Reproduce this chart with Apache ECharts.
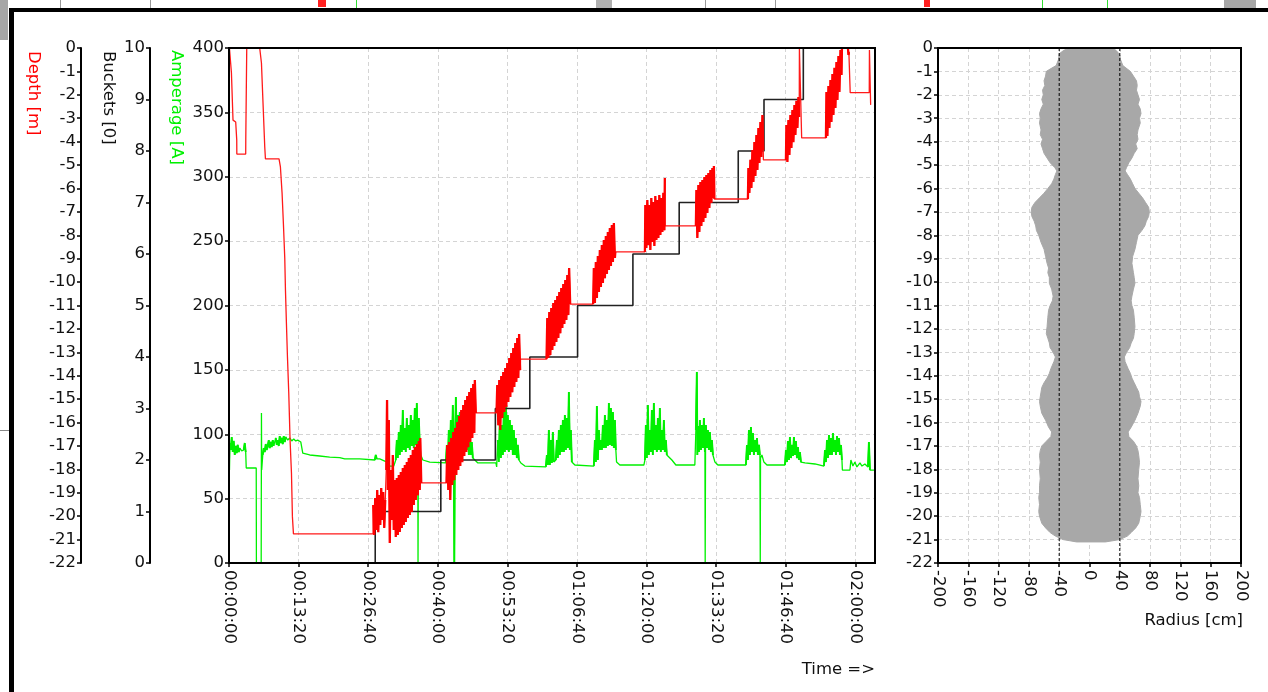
<!DOCTYPE html>
<html><head><meta charset="utf-8">
<script src="https://cdn.jsdelivr.net/npm/echarts@6/dist/echarts.min.js"></script>
<style>html,body{margin:0;padding:0;background:#fff}#c{width:1268px;height:692px}</style>
</head><body><div id="c"></div>
<script>
// ---------- DATA ----------
const timeMax = 7426;          // seconds
const timeStep = 800;          // tick step (s)
const ampRange = [0, 400];     // Amperage [A]
const bucketRange = [0, 10];   // Buckets
const depthRange = [-22, 0];   // Depth [m]
const radiusRange = [-200, 200];
const boreRadius = [-40, 40];  // dashed reference lines (cm)

// Depth [m] vs time [s] (red)
const depthData = [
[5,0],[28,-1.07],[46,-3.08],[77,-3.16],[89,-3.93],[90,-4.53],[192,-4.53],[193,-3.89],[204,0],[353,0],
[373,-0.64],[391,-2.35],[411,-4.23],[419,-4.74],[575,-4.74],[591,-5.08],[610,-6.19],[626,-7.56],[641,-8.97],
[649,-10.34],[660,-11.75],[672,-13.2],[687,-14.74],[702,-16.75],[718,-18.16],[729,-20.03],[741,-20.76],[1656,-20.76],
[1658,-19.52],[1670,-20.8],[1681,-19.22],[1693,-20.59],[1704,-18.88],[1716,-20.68],[1727,-19.1],[1739,-20.38],
[1750,-18.8],[1762,-20.16],[1773,-18.97],[1785,-20.5],[1796,-19.31],[1808,-18.03],[1817,-15.04],[1825,-18.88],
[1837,-15.89],[1848,-21.15],[1860,-18.03],[1871,-20.16],[1883,-17.39],[1894,-20.59],[1906,-18.46],[1917,-20.89],
[1929,-18.37],[1940,-20.8],[1952,-18.24],[1963,-20.68],[1975,-18.11],[1986,-20.5],[1998,-17.94],[2009,-20.38],
[2021,-17.81],[2032,-20.25],[2044,-17.69],[2055,-20.08],[2067,-17.52],[2078,-19.95],[2090,-17.39],[2101,-19.82],
[2113,-17.17],[2124,-19.52],[2136,-17.05],[2147,-19.31],[2159,-16.92],[2170,-19.1],[2182,-16.79],[2193,-18.88],
[2199,-16.66],[2210,-18.58],[2500,-18.58],
[2509,-16.96],[2521,-18.88],[2532,-16.83],[2544,-19.31],[2555,-16.66],[2567,-18.67],[2578,-16.4],[2590,-18.46],
[2601,-16.23],[2613,-18.24],[2624,-15.98],[2636,-18.03],[2647,-15.72],[2659,-17.86],[2670,-15.46],[2682,-17.69],
[2693,-15.25],[2705,-17.43],[2716,-15.04],[2728,-17.26],[2739,-14.87],[2751,-17.05],[2762,-14.7],[2774,-16.83],
[2785,-14.52],[2797,-16.66],[2808,-14.35],[2820,-16.45],[2826,-14.18],[2837,-15.59],[3075,-15.59],
[3084,-14.4],[3096,-16.11],[3107,-14.18],[3119,-16.32],[3130,-14.01],[3142,-15.81],[3153,-13.84],[3165,-15.55],
[3176,-13.67],[3188,-15.34],[3199,-13.46],[3211,-15.12],[3222,-13.24],[3234,-14.91],[3245,-13.03],[3257,-14.7],
[3268,-12.82],[3280,-14.48],[3291,-12.6],[3303,-14.27],[3314,-12.39],[3326,-14.1],[3335,-12.22],[3347,-13.76],
[3351,-13.29],[3650,-13.29],
[3659,-11.53],[3671,-13.24],[3682,-11.28],[3694,-13.12],[3705,-11.11],[3717,-12.9],[3728,-10.89],[3740,-12.73],
[3751,-10.77],[3763,-12.56],[3774,-10.59],[3786,-12.39],[3797,-10.42],[3809,-12.18],[3820,-10.25],[3832,-11.96],
[3843,-10.08],[3855,-11.79],[3866,-9.91],[3878,-11.62],[3889,-9.7],[3901,-11.41],[3910,-9.4],[3922,-10.94],[4186,-10.94],
[4194,-9.4],[4206,-10.89],[4217,-9.14],[4229,-10.68],[4240,-8.89],[4252,-10.42],[4263,-8.63],[4275,-10.21],
[4286,-8.42],[4298,-10.04],[4309,-8.2],[4321,-9.83],[4332,-8.03],[4344,-9.65],[4355,-7.86],[4367,-9.48],
[4378,-7.69],[4390,-9.31],[4401,-7.56],[4413,-9.14],[4424,-7.48],[4436,-8.97],[4441,-8.71],[4781,-8.71],
[4786,-6.71],[4798,-8.54],[4809,-6.49],[4821,-8.42],[4832,-6.71],[4844,-8.63],[4855,-6.41],[4867,-8.29],
[4878,-6.58],[4890,-8.46],[4901,-6.32],[4913,-8.2],[4924,-6.49],[4936,-8.12],[4947,-6.28],[4959,-7.99],
[4970,-6.41],[4982,-7.86],[4993,-6.19],[5005,-7.78],[5010,-5.55],[5014,-7.6],[5367,-7.6],
[5373,-6.07],[5384,-8.12],[5396,-5.85],[5407,-7.86],[5419,-5.72],[5430,-7.6],[5442,-5.64],[5453,-7.43],
[5465,-5.51],[5476,-7.26],[5488,-5.43],[5499,-7.05],[5511,-5.34],[5522,-6.83],[5534,-5.21],[5545,-6.62],
[5557,-5.13],[5568,-6.41],[5574,-5.04],[5580,-6.45],[5965,-6.45],
[5971,-5.13],[5982,-6.19],[5994,-4.78],[6005,-5.98],[6017,-4.36],[6028,-5.72],[6040,-4.02],[6051,-5.47],
[6063,-3.72],[6074,-5.21],[6086,-3.42],[6097,-4.91],[6109,-3.16],[6120,-4.66],[6132,-2.86],[6141,-4.36],
[6143,-4.78],[6402,-4.78],
[6408,-3.29],[6419,-4.87],[6431,-3.08],[6442,-4.57],[6454,-2.86],[6465,-4.27],[6477,-2.65],[6488,-4.02],
[6500,-2.44],[6511,-3.72],[6523,-2.26],[6534,-3.42],[6546,-2.09],[6555,-2.95],[6557,0],[6575,0],[6583,-3.84],[6862,-3.84],
[6868,-1.88],[6879,-3.76],[6891,-1.62],[6902,-3.42],[6914,-1.37],[6925,-3.16],[6937,-1.11],[6948,-2.86],
[6960,-0.85],[6971,-2.56],[6983,-0.6],[6994,-2.22],[7006,-0.34],[7017,-1.88],[7029,-0.09],[7041,-1.15],
[7046,0],[7115,0],[7121,-0.3],[7126,-0.21],[7138,-0.21],[7141,-1.91],[7360,-1.91],[7362,-0.09],[7376,-2.43]
];

// Amperage [A] vs time [s] (green)
const ampData = [
[2,72.2],[8,93.2],[20,87.8],[31,97.9],[43,86.2],[54,94.8],[66,83.9],[77,90.9],[89,85.4],[100,91.7],[112,86.2],
[123,89.3],[146,87],[169,87.8],[181,93.2],[192,86.2],[198,73.8],[313,73.8],[315,0],[370,0],[373,116.5],[376,72.2],
[388,83.9],[399,89.3],[411,86.2],[422,92.4],[434,87.8],[445,90.9],[457,95.5],[468,89.3],[480,94],[491,90.1],
[503,95.5],[514,90.9],[537,97.1],[549,91.7],[560,95.5],[572,90.9],[583,98.6],[595,93.2],[606,97.1],[618,92.4],
[629,98.6],[641,94],[652,97.9],[675,95.5],[698,97.1],[721,94.8],[744,96.3],[767,94.8],[790,95.5],[825,94],
[848,85.4],[928,83.9],[1043,83.1],[1158,82.3],[1273,81.9],[1331,80.8],[1503,80.8],[1676,80],[1687,83.9],
[1699,80.8],[1733,80.8],[1791,79.2],[1825,78.4],[1848,75.3],[1894,75.3],[1917,80],
[1929,95.5],[1940,81.5],[1952,101.7],[1963,83.9],[1975,107.2],[1986,86.2],[1998,118.8],[2009,87.8],[2021,104.8],
[2032,86.2],[2044,112.6],[2055,89.3],[2067,107.2],[2078,87.8],[2090,115],[2101,90.9],[2113,111.1],[2124,89.3],
[2136,120.4],[2147,91.7],[2159,124.3],[2170,87.8],[2173,0],[2177,87.8],[2182,112.6],[2193,91.7],[2205,83.9],
[2228,80],[2308,78.4],[2492,77.7],
[2504,91.7],[2515,78.4],[2527,103.3],[2538,80],[2550,111.1],[2561,81.5],[2573,122.7],[2584,83.9],[2590,0],
[2596,83.9],[2608,128.9],[2619,86.2],[2631,115],[2642,87.8],[2653,117.3],[2665,86.2],[2676,111.1],[2688,87.8],
[2699,112.6],[2711,86.2],[2722,107.2],[2734,87.8],[2745,103.3],[2757,83.9],[2768,97.1],[2780,83.9],[2791,94],
[2803,81.5],[2826,80],[2861,77.7],[3068,77.7],
[3077,74.6],[3090,95.5],[3101,78.4],[3113,111.1],[3125,81.5],[3136,107.2],[3148,83.9],[3159,118.8],[3171,86.2],
[3182,125.1],[3194,87.8],[3205,115],[3217,86.2],[3228,111.1],[3240,87.8],[3251,107.2],[3263,83.9],[3274,103.3],
[3286,83.9],[3297,97.1],[3309,81.5],[3320,91.7],[3332,80],[3355,77.7],[3401,75.3],[3642,74.6],
[3654,83.9],[3665,76.1],[3677,103.3],[3688,76.1],[3700,95.5],[3711,77.7],[3723,101.7],[3734,78.4],[3757,80],
[3769,95.5],[3780,81.5],[3792,103.3],[3803,83.9],[3815,107.2],[3826,86.2],[3838,111.1],[3849,86.2],[3861,115],
[3872,87.8],[3884,112.6],[3895,89.3],[3907,132.8],[3918,87.8],[3930,103.3],[3941,78.4],[3976,76.1],[4194,75.3],
[4206,95.5],[4217,78.4],[4229,121.9],[4240,80],[4252,103.3],[4263,87.8],[4275,95.5],[4286,87.8],[4298,107.2],
[4309,89.3],[4321,115],[4332,89.3],[4344,111.1],[4355,90.9],[4367,124.3],[4378,91.7],[4390,120.4],[4401,90.9],
[4413,117.3],[4424,89.3],[4436,111.1],[4447,87.8],[4455,78.4],[4493,76.1],[4769,76.1],
[4781,80],[4792,107.2],[4803,81.5],[4815,122.7],[4826,83.9],[4838,103.3],[4849,86.2],[4861,118.8],[4872,83.9],
[4884,124.3],[4895,87.8],[4907,107.2],[4918,86.2],[4930,112.6],[4941,87.8],[4953,120.4],[4964,86.2],[4976,103.3],
[4987,87.8],[4999,111.1],[5010,86.2],[5022,95.5],[5033,83.9],[5091,80],[5137,76.1],[5355,76.1],
[5367,103.3],[5378,148.4],[5384,83.9],[5390,106.4],[5402,86.2],[5413,111.1],[5425,87.8],[5436,107.2],[5448,89.3],
[5459,112.6],[5471,86.2],[5474,0],[5478,87.8],[5482,107.2],[5494,89.3],[5505,103.3],[5517,87.8],[5528,101.7],
[5540,86.2],[5551,95.5],[5563,83.9],[5586,78.4],[5620,76.1],[5942,76.1],
[5954,91.7],[5965,80],[5977,103.3],[5988,83.9],[6000,105.6],[6011,86.2],[6023,100.9],[6034,83.9],[6046,95.5],
[6057,86.2],[6069,97.1],[6080,83.9],[6092,91.7],[6103,83.9],[6107,0],[6110,81.5],[6126,83.9],[6149,78.4],
[6184,76.1],[6391,76.1],
[6402,87.8],[6414,78.4],[6425,94.8],[6437,80],[6448,97.9],[6460,81.5],[6471,91.7],[6483,83.1],[6494,97.9],
[6506,83.9],[6517,94.8],[6529,81.5],[6540,90.1],[6552,80],[6563,86.2],[6575,78.4],[6621,77.7],[6736,76.9],[6839,75.3],
[6851,87.8],[6862,78.4],[6874,95.5],[6885,81.5],[6897,99.4],[6908,83.9],[6920,97.1],[6931,83.9],[6943,101],
[6954,86.2],[6966,95.5],[6977,83.9],[6989,98.6],[7000,86.2],[7012,97.1],[7023,83.9],[7035,91.7],[7046,80],
[7051,72.2],[7138,72.2],[7149,80],[7172,75.3],[7195,78.4],[7218,74.6],[7253,77.7],[7276,75.3],[7310,76.9],
[7345,74.6],[7356,94],[7368,72.2],[7414,72.2]
];

// Buckets: time [s] at which each count begins
const bucketData = [[1681,0],[1681,1],[2435,2],[3062,3],[3458,4],[4007,5],[4643,6],[5175,7],[5854,8],[6150,9],[6602,10],[7426,10]];

// Borehole profile: depth [m], left radius [cm], right radius [cm]
const profileDepth = [0,-0.1,-0.25,-0.5,-0.75,-0.9,-1.0,-1.2,-1.4,-1.6,-1.8,-2.0,-2.2,-2.4,-2.6,-2.8,-3.0,-3.2,-3.5,-3.7,-3.9,-4.1,-4.3,-4.5,-4.7,-4.9,-5.1,-5.25,-5.4,-5.6,-5.8,-6.0,-6.2,-6.4,-6.6,-6.8,-7.0,-7.2,-7.4,-7.6,-7.8,-8.0,-8.3,-8.6,-8.9,-9.2,-9.4,-9.6,-9.8,-10.05,-10.3,-10.6,-10.8,-11.0,-11.2,-11.5,-11.9,-12.2,-12.4,-12.6,-12.8,-13.0,-13.2,-13.4,-13.7,-13.9,-14.1,-14.3,-14.5,-14.7,-14.9,-15.1,-15.3,-15.6,-15.9,-16.2,-16.4,-16.6,-16.8,-17.0,-17.2,-17.4,-17.7,-18.0,-18.4,-18.7,-19.0,-19.2,-19.5,-19.8,-20.0,-20.3,-20.5,-20.7,-20.85,-21.0,-21.1];
const profileLeft  = [-26,-34,-40,-41,-44,-52,-57,-58,-60,-59,-62,-61,-63,-61,-64,-66,-65,-66,-64,-65,-62,-64,-62,-60,-56,-52,-46,-43,-45,-47,-50,-55,-60,-66,-72,-76,-77,-76,-73,-71,-70,-67,-64,-60,-58,-56,-54,-55,-53,-53,-50,-48,-49,-52,-54,-55,-56,-57,-55,-53,-52,-48,-45,-47,-51,-53,-56,-60,-63,-64,-65,-66,-65,-63,-58,-54,-50,-51,-57,-63,-65,-66,-65,-66,-65,-66,-66,-67,-66,-67,-66,-63,-58,-52,-45,-35,-17];
const profileRight = [30,35,39,41,44,50,54,58,62,63,62,64,66,64,67,68,66,67,64,63,64,61,63,59,56,52,49,47,50,54,57,60,65,70,74,78,79,78,75,73,69,64,62,60,57,56,57,58,59,60,58,56,55,56,58,59,60,59,58,55,53,49,46,47,51,54,56,59,62,65,66,68,67,64,60,55,51,52,58,62,64,65,66,65,64,65,64,66,67,68,67,65,61,55,50,40,21];

// ---------- CHART ----------
const FONT = 'DejaVu Sans';
const FS = 16.5;
const TXT = '#111';
const G0 = {left:229, top:48, width:646, height:515};
const G1 = {left:938, top:48, width:303, height:515};
function hms(v){
  const h=Math.floor(v/3600), m=Math.floor((v%3600)/60), s=Math.round(v%60);
  return [h,m,s].map(n=>String(n).padStart(2,'0')).join(':');
}
// rapid up/down oscillation (short steps with alternating direction) is drawn heavier,
// like the dense bands of the original; other segments are broken out with nulls.
function denseParts(data){
  const n=data.length, ok=[], sg=[], dense=[];
  for(let i=1;i<n;i++){
    const dt=data[i][0]-data[i-1][0], dy=data[i][1]-data[i-1][1];
    ok[i]=(dt>=5 && dt<=12); sg[i]=Math.sign(dy);
  }
  for(let i=1;i<n;i++){
    dense[i]=ok[i] && ((ok[i-1] && sg[i-1]!==sg[i]) || (ok[i+1] && sg[i+1]!==sg[i]));
  }
  const out=[];
  for(let i=0;i<n;i++){
    if(i>0 && !dense[i]) out.push([data[i][0], null]);
    out.push(data[i]);
  }
  return out;
}
const gridLine = {show:true, lineStyle:{color:'#d4d4d4', type:[4,3], width:1}};
const axLine = {show:true, onZero:false, lineStyle:{color:'#000', width:2}};
const tick = {show:true, length:4, lineStyle:{color:'#000', width:1.5}};
const lbl = (extra)=>Object.assign({color:TXT, fontFamily:FONT, fontSize:FS}, extra||{});
const font = FS+'px "'+FONT+'"';

const chart = echarts.init(document.getElementById('c'), null, {renderer:'canvas'});
chart.setOption({
  animation:false,
  backgroundColor:'#fff',
  grid:[
    Object.assign({show:false, containLabel:false, outerBoundsMode:'none'}, G0),
    Object.assign({show:false, containLabel:false, outerBoundsMode:'none'}, G1)
  ],
  xAxis:[
    {type:'value', gridIndex:0, min:0, max:timeMax, interval:timeStep, axisLine:axLine, axisTick:tick,
     splitLine:gridLine, axisLabel:lbl({rotate:-90, margin:7, formatter:hms, showMaxLabel:false})},
    {type:'value', gridIndex:1, min:radiusRange[0], max:radiusRange[1], interval:40, axisLine:axLine, axisTick:tick,
     splitLine:gridLine, axisLabel:lbl({rotate:-90, margin:7})}
  ],
  yAxis:[
    {type:'value', gridIndex:0, position:'left', min:ampRange[0], max:ampRange[1], interval:50, axisLine:axLine, axisTick:tick,
     splitLine:gridLine, axisLabel:lbl({margin:5})},
    {type:'value', gridIndex:0, position:'left', offset:79, min:bucketRange[0], max:bucketRange[1], interval:1, axisLine:axLine, axisTick:tick,
     splitLine:{show:false}, axisLabel:lbl({margin:5})},
    {type:'value', gridIndex:0, position:'left', offset:148, min:depthRange[0], max:depthRange[1], interval:1, axisLine:axLine, axisTick:tick,
     splitLine:{show:false}, axisLabel:lbl({margin:5})},
    {type:'value', gridIndex:1, position:'left', min:depthRange[0], max:depthRange[1], interval:1, axisLine:axLine, axisTick:tick,
     splitLine:gridLine, axisLabel:lbl({margin:5})}
  ],
  series:[
    {type:'line', name:'Amperage', xAxisIndex:0, yAxisIndex:0, data:ampData, showSymbol:false, symbol:'none',
     lineStyle:{color:'#00f000', width:1.3}, z:2},
    {type:'line', xAxisIndex:0, yAxisIndex:0, data:denseParts(ampData), showSymbol:false, symbol:'none', connectNulls:false,
     lineStyle:{color:'#00f000', width:1.9}, z:2},
    {type:'line', name:'Buckets', xAxisIndex:0, yAxisIndex:1, data:bucketData, step:'end', showSymbol:false, symbol:'none',
     lineStyle:{color:'#222', width:1.6}, z:3},
    {type:'line', name:'Depth', xAxisIndex:0, yAxisIndex:2, data:depthData, showSymbol:false, symbol:'none',
     lineStyle:{color:'#ff1a1a', width:1.3}, z:4},
    {type:'line', xAxisIndex:0, yAxisIndex:2, data:denseParts(depthData), showSymbol:false, symbol:'none', connectNulls:false,
     lineStyle:{color:'#ff0000', width:2.3}, z:4},
    {type:'custom', name:'Profile', xAxisIndex:1, yAxisIndex:3, data:[[0,0]], z:2,
     renderItem:function(params, api){
       const pts=[];
       for(let i=0;i<profileDepth.length;i++) pts.push(api.coord([profileLeft[i], profileDepth[i]]));
       for(let i=profileDepth.length-1;i>=0;i--) pts.push(api.coord([profileRight[i], profileDepth[i]]));
       return {type:'polygon', shape:{points:pts}, style:{fill:'#a8a8a8', stroke:'#a8a8a8', lineWidth:1}};
     }},
    {type:'line', xAxisIndex:1, yAxisIndex:3, data:[[boreRadius[0],depthRange[1]],[boreRadius[0],depthRange[0]]], showSymbol:false, symbol:'none',
     lineStyle:{color:'#000', width:1, type:[3,2]}, z:5},
    {type:'line', xAxisIndex:1, yAxisIndex:3, data:[[boreRadius[1],depthRange[1]],[boreRadius[1],depthRange[0]]], showSymbol:false, symbol:'none',
     lineStyle:{color:'#000', width:1, type:[3,2]}, z:5}
  ],
  graphic:[
    // window background strip at top (partial neighbouring view)
    {type:'rect', shape:{x:0,y:0,width:8,height:40}, style:{fill:'#a6a6a6'}, silent:true},
    {type:'rect', shape:{x:0,y:430,width:9,height:1}, style:{fill:'#888'}, silent:true},
    {type:'rect', shape:{x:1224,y:0,width:32,height:8}, style:{fill:'#a6a6a6'}, silent:true},
    {type:'rect', shape:{x:596,y:0,width:16,height:8}, style:{fill:'#b0b0b0'}, silent:true},
    {type:'rect', shape:{x:318,y:0,width:8,height:7}, style:{fill:'#ff2020'}, silent:true},
    {type:'rect', shape:{x:924,y:0,width:6,height:7}, style:{fill:'#ff2020'}, silent:true},
    {type:'rect', shape:{x:356,y:0,width:1,height:8}, style:{fill:'#33dd33'}, silent:true},
    {type:'rect', shape:{x:1042,y:0,width:1,height:8}, style:{fill:'#33dd33'}, silent:true},
    {type:'rect', shape:{x:1107,y:0,width:1,height:8}, style:{fill:'#33dd33'}, silent:true},
    {type:'rect', shape:{x:60,y:0,width:1,height:8}, style:{fill:'#999'}, silent:true},
    {type:'rect', shape:{x:150,y:0,width:1,height:8}, style:{fill:'#999'}, silent:true},
    {type:'rect', shape:{x:705,y:0,width:1,height:8}, style:{fill:'#999'}, silent:true},
    {type:'rect', shape:{x:775,y:0,width:1,height:8}, style:{fill:'#999'}, silent:true},
    // black window frame
    {type:'rect', shape:{x:9,y:8,width:1259,height:4}, style:{fill:'#000'}, silent:true},
    {type:'rect', shape:{x:9,y:8,width:5,height:684}, style:{fill:'#000'}, silent:true},
    // plot frames (drawn above the grid lines)
    {type:'rect', z:100, silent:true, shape:{x:G0.left,y:G0.top,width:G0.width,height:G0.height}, style:{fill:'transparent', stroke:'#000', lineWidth:2}},
    {type:'rect', z:100, silent:true, shape:{x:G1.left,y:G1.top,width:G1.width,height:G1.height}, style:{fill:'transparent', stroke:'#000', lineWidth:2}},
    // axis titles
    {type:'text', x:33, y:51, rotation:-Math.PI/2, style:{text:'Depth [m]', fill:'#ff0000', font:font, textAlign:'left', textVerticalAlign:'middle'}},
    {type:'text', x:108, y:51, rotation:-Math.PI/2, style:{text:'Buckets [0]', fill:TXT, font:font, textAlign:'left', textVerticalAlign:'middle'}},
    {type:'text', x:176, y:50, rotation:-Math.PI/2, style:{text:'Amperage [A]', fill:'#00f000', font:font, textAlign:'left', textVerticalAlign:'middle'}},
    {type:'text', x:875, y:670, style:{text:'Time =>', fill:TXT, font:font, textAlign:'right', textVerticalAlign:'middle'}},
    {type:'text', x:1243, y:621, style:{text:'Radius [cm]', fill:TXT, font:font, textAlign:'right', textVerticalAlign:'middle'}}
  ]
});
</script></body></html>
